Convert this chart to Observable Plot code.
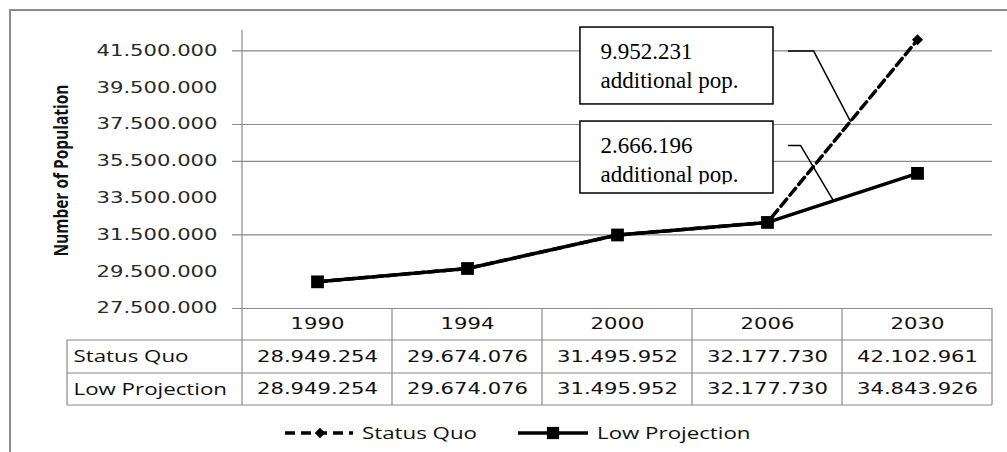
<!DOCTYPE html>
<html><head><meta charset="utf-8">
<script src="https://cdn.jsdelivr.net/npm/d3@7"></script>
<script src="https://cdn.jsdelivr.net/npm/@observablehq/plot@0.6"></script>
<style>
html,body{margin:0;padding:0;background:#fff;}
#wrap{position:relative;width:1007px;height:452px;overflow:hidden;background:#fff;}
#frame{position:absolute;left:9px;top:9px;right:-5px;bottom:-5px;border-top:2px solid #8c8c8c;border-left:2px solid #8c8c8c;}
#chart{position:absolute;left:0;top:0;}
#legend{position:absolute;left:0;top:415px;}
</style></head><body>
<div id="wrap"><div id="frame"></div><div id="chart"></div><div id="legend"></div></div>
<script>
// ---------------- data ----------------
const years = ["1990", "1994", "2000", "2006", "2030"];
const seriesNames = ["Status Quo", "Low Projection"];
const statusQuo = [28949254, 29674076, 31495952, 32177730, 42102961];
const lowProjection = [28949254, 29674076, 31495952, 32177730, 34843926];
const yTicks = [27500000, 29500000, 31500000, 33500000, 35500000, 37500000, 39500000, 41500000];
const yTickLabels = ["27.500.000", "29.500.000", "31.500.000", "33.500.000", "35.500.000", "37.500.000", "39.500.000", "41.500.000"];
const gridLines = [27500000, 31500000, 35500000, 37500000, 41500000];
const yAxisTitle = "Number of Population";
const annotationTexts = ["9.952.231\nadditional pop.", "2.666.196\nadditional pop."];
const annotationSeries = ["Status Quo", "Low Projection"];

// ---------------- layout (data units, placed through the scales) ----------------
const annLayout = [
  {bx: [1.753, 3.04], by: [42.77e6, 38.59e6], tx: 1.887, ty: 42.19e6, lx: [3.14, 3.307], ly: 41.5e6, t: 0.553, clipY: null},
  {bx: [1.753, 3.04], by: [37.66e6, 33.75e6], tx: 1.887, ty: 37.08e6, lx: [3.14, 3.22], ly: 36.36e6, t: 0.44, clipY: 34.25e6}
];
const gridColor = "#8a8a8a";
const numFont = "'DejaVu Sans', Verdana, sans-serif";
const labelFont = "'Open Sans', 'Noto Sans', sans-serif";
const serifFont = "'Liberation Serif', 'Times New Roman', serif";

const fmt = d3.formatLocale({decimal: ",", thousands: ".", grouping: [3], currency: ["", ""]}).format(",d");
const seriesValues = [statusQuo, lowProjection];
const rows = seriesValues.map((vals, r) => vals.map((v, i) => ({r, i, v, year: years[i]})));

const annRows = annotationTexts.map((label, k) => ({label, ...annLayout[k]}));
const leaderRows = annRows.flatMap((a, k) => {
  const vals = seriesValues[seriesNames.indexOf(annotationSeries[k])];
  const ex = 3 + a.t, ey = vals[3] + a.t * (vals[4] - vals[3]);
  return [{k, x: a.lx[0], y: a.ly}, {k, x: a.lx[1], y: a.ly}, {k, x: ex, y: ey}];
});

// table grid render mark
function tableGrid(index, scales, values, dimensions) {
  const {x} = scales;
  const bottom = dimensions.height - dimensions.marginBottom;
  const top = dimensions.marginTop;
  const g = d3.create("svg:g").attr("stroke", gridColor).attr("stroke-width", 1.2).attr("fill", "none");
  const left = x(-0.5), right = x(years.length - 0.5);
  const tableLeft = left - 175;
  const rowY = [bottom + 32, bottom + 65, bottom + 97];
  for (const yy of rowY) g.append("line").attr("x1", tableLeft).attr("x2", right).attr("y1", yy).attr("y2", yy);
  for (let k = 0; k <= years.length; k++) {
    const xx = x(k - 0.5);
    g.append("line").attr("x1", xx).attr("x2", xx).attr("y1", k === 0 ? top - 2 : bottom).attr("y2", rowY[2]);
  }
  g.append("line").attr("x1", tableLeft).attr("x2", tableLeft).attr("y1", rowY[0]).attr("y2", rowY[2]);
  return g.node();
}

const numText = {fontFamily: numFont, fontSize: 15, fill: "#111", lineAnchor: "middle"};
const plot = Plot.plot({
  width: 1007,
  height: 415,
  marginLeft: 242,
  marginRight: 15,
  marginTop: 32,
  marginBottom: 107,
  style: {background: "transparent", overflow: "visible"},
  x: {type: "linear", domain: [-0.5, years.length - 0.5], axis: null},
  y: {domain: [27500000, 42500000], axis: null},
  marks: [
    Plot.ruleY(gridLines, {y: d => d, stroke: gridColor, strokeWidth: 1.2, insetLeft: -10}),
    tableGrid,
    Plot.rect(annRows, {x1: d => d.bx[0], x2: d => d.bx[1], y1: d => d.by[0], y2: d => d.by[1], fill: "white", stroke: "black", strokeWidth: 1.5}),
    Plot.text(annRows, {x: "tx", y: "ty", text: "label", textAnchor: "start", lineAnchor: "top", lineHeight: 1.26, fontFamily: serifFont, fontSize: 23, fill: "black"}),
    Plot.line(leaderRows, {x: "x", y: "y", z: "k", stroke: "black", strokeWidth: 1.5}),
    Plot.line(rows[0], {x: "i", y: "v", stroke: "black", strokeWidth: 3.5, strokeDasharray: "9,5"}),
    Plot.dot(rows[0], {x: "i", y: "v", symbol: "diamond2", r: 5, fill: "black"}),
    Plot.line(rows[1], {x: "i", y: "v", stroke: "black", strokeWidth: 3.5}),
    Plot.dot(rows[1], {x: "i", y: "v", symbol: "square", r: 7.2, fill: "black"}),
    Plot.text(yTicks, {y: d => d, text: (d, i) => yTickLabels[i], frameAnchor: "left", textAnchor: "end", dx: -25, ...numText, fill: "#2a2a2a"}),
    Plot.text([yAxisTitle], {text: d => d, frameAnchor: "left", textAnchor: "middle", dx: -181, rotate: -90, fontFamily: "'Liberation Sans Narrow', 'Open Sans', sans-serif", fontSize: 19, fontWeight: "bold", fill: "#111", lineAnchor: "middle"}),
    Plot.text(years, {x: (d, i) => i, text: d => d, frameAnchor: "bottom", dy: 16, ...numText}),
    Plot.text(rows[0], {x: "i", text: d => fmt(d.v), frameAnchor: "bottom", dy: 48.5, ...numText}),
    Plot.text(rows[1], {x: "i", text: d => fmt(d.v), frameAnchor: "bottom", dy: 81, ...numText}),
    Plot.text([seriesNames[0]], {text: d => d, frameAnchor: "bottom-left", dx: -169, dy: 48.5, textAnchor: "start", fontFamily: labelFont, fontSize: 16, fill: "#111", lineAnchor: "middle"}),
    Plot.text([seriesNames[1]], {text: d => d, frameAnchor: "bottom-left", dx: -169, dy: 81, textAnchor: "start", fontFamily: labelFont, fontSize: 16, fill: "#111", lineAnchor: "middle"})
  ]
});
document.getElementById("chart").appendChild(plot);

// legend
const lg = d3.select("#legend").append("svg").attr("width", 1007).attr("height", 37);
const cy = 18;
const items = [
  {name: seriesNames[0], x0: 285, x1: 353, mx: 320, dash: "10,6", sym: d3.symbolDiamond2, size: 70},
  {name: seriesNames[1], x0: 518, x1: 588, mx: 553, dash: null, sym: d3.symbolSquare, size: 150}
];
for (const it of items) {
  const l = lg.append("line").attr("x1", it.x0).attr("x2", it.x1).attr("y1", cy).attr("y2", cy).attr("stroke", "black").attr("stroke-width", 3.5);
  if (it.dash) l.attr("stroke-dasharray", it.dash);
  lg.append("path").attr("d", d3.symbol(it.sym, it.size)()).attr("transform", `translate(${it.mx},${cy})`).attr("fill", "black");
  lg.append("text").attr("class", "lgtext").attr("x", it.x1 + 9).attr("y", cy).attr("dy", "0.35em")
    .attr("font-family", labelFont).attr("font-size", 16).attr("fill", "#111").text(it.name);
}

// horizontal stretch to match the reference's wide lettering
function stretch(nodes, f) {
  for (const el of nodes) {
    const L = el.getComputedTextLength();
    if (L > 0) { el.setAttribute("textLength", L * f); el.setAttribute("lengthAdjust", "spacingAndGlyphs"); }
  }
}
const allText = Array.from(plot.querySelectorAll("text")).filter(t => t.querySelector("tspan") === null);
const numNodes = allText.filter(t => /^[0-9][0-9.]*$/.test(t.textContent));
const labNodes = allText.filter(t => seriesNames.includes(t.textContent));
const titleNodes = allText.filter(t => t.textContent === yAxisTitle);
const numProbe = numNodes.find(t => t.textContent === fmt(statusQuo[0]));
const labProbe = labNodes.find(t => t.textContent === seriesNames[0]);
const numF = numProbe ? 121 / numProbe.getComputedTextLength() : 1.4;
const labF = labProbe ? 115 / labProbe.getComputedTextLength() : 1.4;
stretch(numNodes, numF);
stretch(labNodes, labF);
stretch(Array.from(lg.node().querySelectorAll("text.lgtext")), labF);
for (const t of titleNodes) { t.setAttribute("textLength", 172); t.setAttribute("lengthAdjust", "spacingAndGlyphs"); }

// the lower callout's text is cut by the box in the reference
const yScale = plot.scale("y"), xScale = plot.scale("x");
const annTextNodes = Array.from(plot.querySelectorAll("text")).filter(t => t.querySelector("tspan") !== null);
annRows.forEach((a, k) => {
  if (a.clipY == null || !annTextNodes[k]) return;
  const id = "annclip" + k;
  const ns = "http://www.w3.org/2000/svg";
  const cp = document.createElementNS(ns, "clipPath"); cp.setAttribute("id", id);
  const r = document.createElementNS(ns, "rect");
  const x0 = xScale.apply(a.bx[0]), x1 = xScale.apply(a.bx[1]);
  const y0 = yScale.apply(a.by[0]), y1 = yScale.apply(a.clipY);
  r.setAttribute("x", x0); r.setAttribute("width", x1 - x0);
  r.setAttribute("y", y0); r.setAttribute("height", y1 - y0);
  cp.appendChild(r); plot.appendChild(cp);
  const node = annTextNodes[k];
  const wrapG = document.createElementNS(ns, "g"); wrapG.setAttribute("clip-path", `url(#${id})`);
  node.parentNode.insertBefore(wrapG, node); wrapG.appendChild(node);
});
</script></body></html>
